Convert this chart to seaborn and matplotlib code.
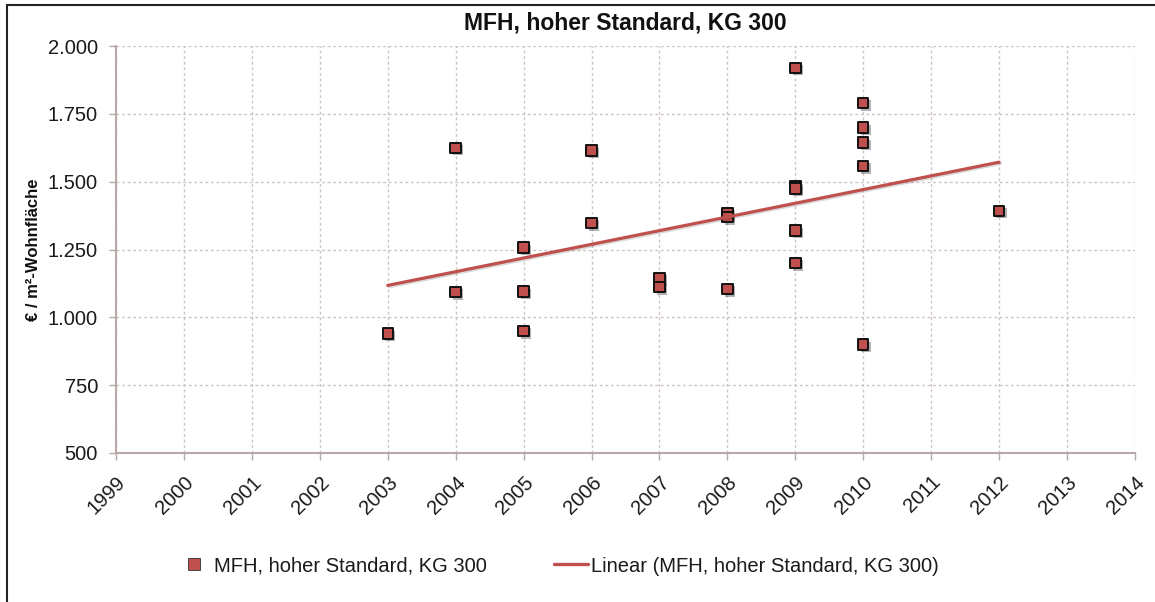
import numpy as np
import pandas as pd
import matplotlib
matplotlib.use("Agg")
import matplotlib.pyplot as plt
import matplotlib.patheffects as pe
from matplotlib.lines import Line2D
from matplotlib.ticker import FuncFormatter
import seaborn as sns

# ---- data ----
years = [2003,
         2004, 2004,
         2005, 2005, 2005,
         2006, 2006,
         2007, 2007,
         2008, 2008, 2008,
         2009, 2009, 2009, 2009, 2009,
         2010, 2010, 2010, 2010, 2010,
         2012]
costs = [941,
         1625, 1094,
         1258, 1095, 950,
         1615, 1348,
         1145, 1112,
         1385, 1370, 1105,
         1920, 1482, 1475, 1320, 1200,
         1790, 1700, 1645, 1558, 900,
         1393]
x_ticks = list(range(1999, 2015))
y_ticks = [500, 750, 1000, 1250, 1500, 1750, 2000]

title = "MFH, hoher Standard, KG 300"
series_label = "MFH, hoher Standard, KG 300"
trend_label = "Linear (MFH, hoher Standard, KG 300)"
y_label = "€ / m²-Wohnfläche"

df = pd.DataFrame({"Jahr": years, "Kosten": costs})

sns.set_style("white")
plt.rcParams["font.family"] = ["Liberation Sans", "DejaVu Sans"]

red = "#C0504D"
grid_c = "#CDC3C3"
spine_c = "#B8A8A8"

fig = plt.figure(figsize=(11.55, 6.02), dpi=100)
ax = fig.add_axes([116/1155, 1 - 453/602, (1135 - 116)/1155, (453 - 46)/602])

shadow = [pe.SimplePatchShadow(offset=(1.8, -1.8), shadow_rgbFace="#555555", alpha=0.45), pe.Normal()]

sns.scatterplot(data=df, x="Jahr", y="Kosten", ax=ax, marker="s", s=56,
                color=red, edgecolor="#111111", linewidth=1.4, zorder=3,
                legend=False)
for coll in ax.collections:
    coll.set_path_effects(shadow)

sns.regplot(data=df, x="Jahr", y="Kosten", ax=ax, scatter=False, ci=None,
            truncate=True, color=red,
            line_kws=dict(linewidth=2.3, zorder=4,
                          path_effects=[pe.SimpleLineShadow(offset=(1, -1), alpha=0.15), pe.Normal()]))

ax.set_xlim(1999, 2014)
ax.set_ylim(500, 2000)
ax.set_xticks(x_ticks)
ax.set_yticks(y_ticks)
ax.yaxis.set_major_formatter(FuncFormatter(lambda v, p: f"{int(v):,}".replace(",", ".")))

ax.grid(True, which="major", color=grid_c, linestyle=(0, (2, 2)), linewidth=1.0)
ax.set_axisbelow(True)
for s in ["top", "right"]:
    ax.spines[s].set_visible(False)
for s in ["left", "bottom"]:
    ax.spines[s].set_color(spine_c)
    ax.spines[s].set_linewidth(1.5)

ax.tick_params(axis="both", which="major", direction="out", length=5, width=1,
               color=spine_c, labelsize=14.5, labelcolor="#1a1a1a")
ax.tick_params(axis="y", left=True, pad=8)
ax.tick_params(axis="x", bottom=True, pad=9)
for lab in ax.get_xticklabels():
    lab.set_rotation(45)
    lab.set_ha("right")
    lab.set_va("top")
    lab.set_rotation_mode("anchor")

ax.set_xlabel("")
ax.set_ylabel(y_label, fontsize=12, fontweight="bold", color="#111111")
ax.yaxis.set_label_coords(-(116 - 41)/1019, 0.5)

fig.text(625/1155, 1 - 23/602, title, ha="center", va="center",
         fontsize=16.5, fontweight="bold", color="#111111")

handles = [
    Line2D([], [], marker="s", linestyle="none", markersize=8,
           markerfacecolor=red, markeredgecolor="#444444", markeredgewidth=0.7),
    Line2D([], [], color=red, linewidth=2.4),
]
fig.legend(handles, [series_label, trend_label], loc="center",
           bbox_to_anchor=(558/1155, 1 - 566/602), ncol=2, frameon=False,
           fontsize=14.5, handlelength=1.7, handletextpad=0.15, columnspacing=3.3,
           labelcolor="#1a1a1a")

# outer frame (left and top edges visible in the reference)
fig.add_artist(Line2D([7/1155, 7/1155], [0, 1 - 5/602], transform=fig.transFigure,
                      color="#222222", linewidth=1.5))
fig.add_artist(Line2D([7/1155, 1], [1 - 5/602, 1 - 5/602], transform=fig.transFigure,
                      color="#222222", linewidth=1.5))

fig.savefig("out.png", dpi=100, facecolor="white")
